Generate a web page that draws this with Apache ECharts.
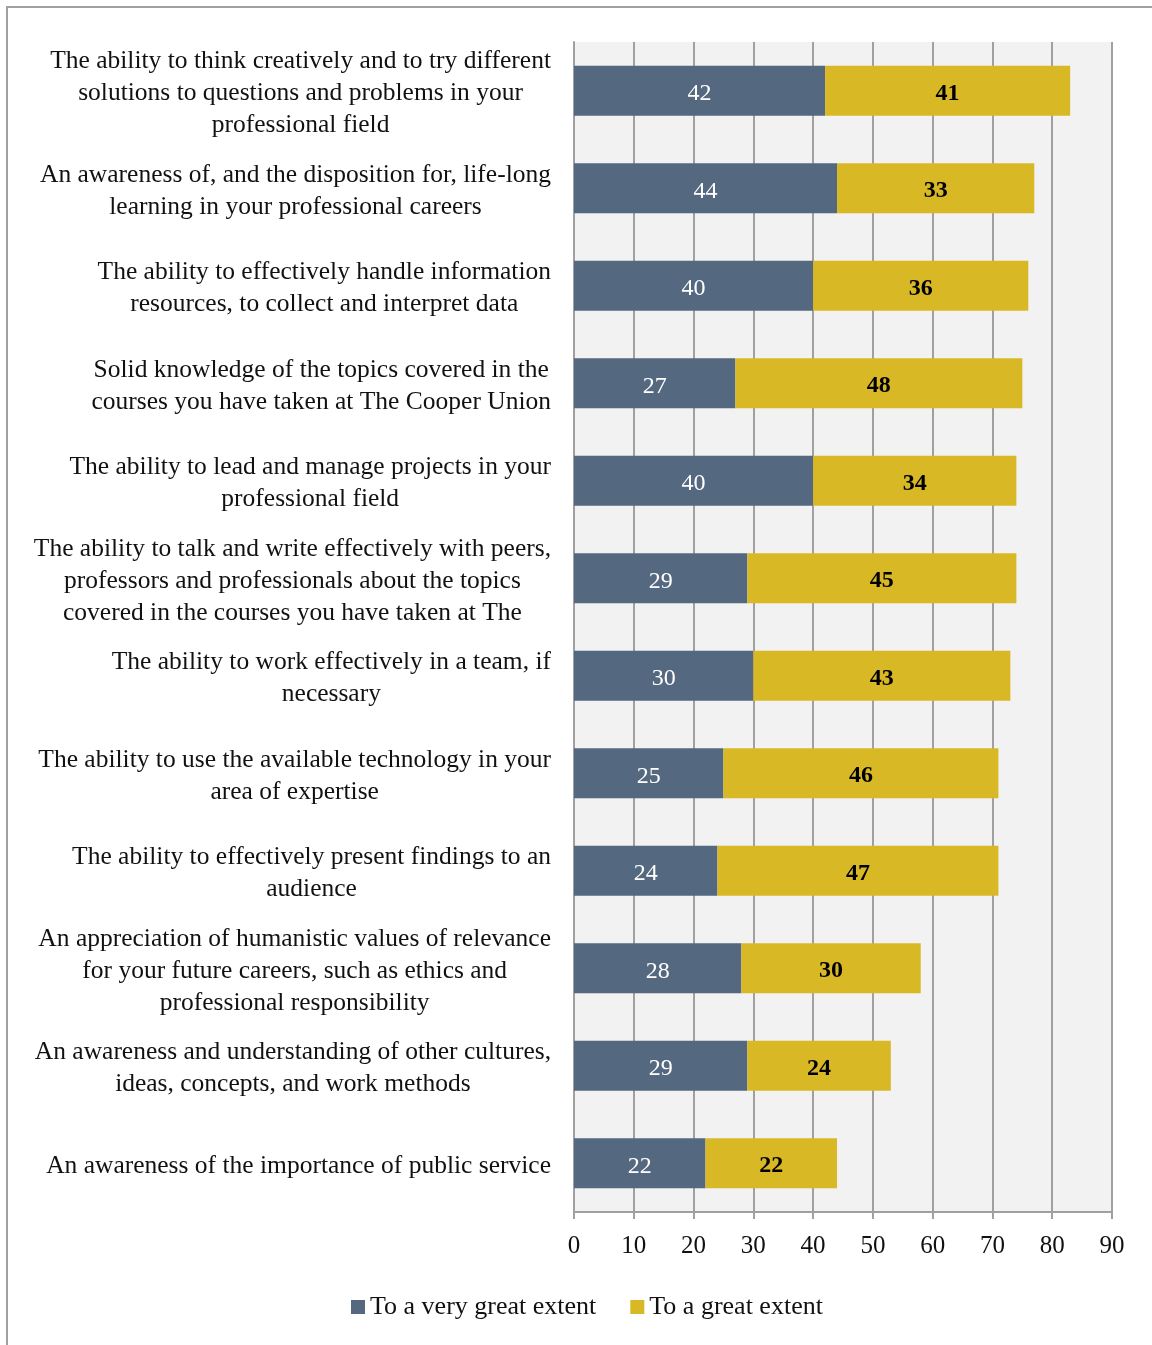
<!DOCTYPE html>
<html>
<head>
<meta charset="utf-8">
<script src="https://cdn.jsdelivr.net/npm/echarts@6/dist/echarts.min.js"></script>
<style>
  html, body { margin: 0; padding: 0; background: #fff; }
  .frame {
    position: absolute;
    left: 6px;
    top: 6px;
    width: 1160px;
    height: 1360px;
    border-left: 2px solid #a0a0a0;
    border-top: 2px solid #a0a0a0;
  }
  #chart { position: absolute; left: 0; top: 0; width: 1152px; height: 1345px; }
</style>
</head>
<body>
<div class="frame"></div>
<div id="chart"></div>
<script>
// categories, top to bottom
const categories = [
  'The ability to think creatively and to try different\nsolutions to questions and problems in your\nprofessional field',
  'An awareness of, and the disposition for, life-long\nlearning in your professional careers',
  'The ability to effectively handle information\nresources, to collect and interpret data',
  'Solid knowledge of the topics covered in the\ncourses you have taken at The Cooper Union',
  'The ability to lead and manage projects in your\nprofessional field',
  'The ability to talk and write effectively with peers,\nprofessors and professionals about the topics\ncovered in the courses you have taken at The',
  'The ability to work effectively in a team, if\nnecessary',
  'The ability to use the available technology in your\narea of expertise',
  'The ability to effectively present findings to an\naudience',
  'An appreciation of humanistic values of relevance\nfor your future careers, such as ethics and\nprofessional responsibility',
  'An awareness and understanding of other cultures,\nideas, concepts, and work methods',
  'An awareness of the importance of public service'
];
const seriesNames = ['To a very great extent', 'To a great extent'];
const veryGreat = [42, 44, 40, 27, 40, 29, 30, 25, 24, 28, 29, 22];
const great = [41, 33, 36, 48, 34, 45, 43, 46, 47, 30, 24, 22];

const serif = '"Liberation Serif", "DejaVu Serif", serif';
const chart = echarts.init(document.getElementById('chart'));

chart.setOption({
  animation: false,
  textStyle: { fontFamily: serif },
  legend: {
    data: seriesNames,
    left: 351,
    top: 1294,
    padding: 0,
    itemWidth: 14,
    itemHeight: 14,
    itemGap: 34,
    icon: 'rect',
    textStyle: { fontSize: 26, color: '#111', fontFamily: serif }
  },
  grid: {
    left: 574,
    right: 40,
    top: 42,
    bottom: 133,
    show: true,
    backgroundColor: '#f2f2f2',
    borderWidth: 0
  },
  xAxis: {
    type: 'value',
    min: 0,
    max: 90,
    interval: 10,
    axisLine: { show: true, lineStyle: { color: '#a0a0a0', width: 2 } },
    axisTick: { show: true, length: 7, lineStyle: { color: '#a0a0a0', width: 2 } },
    axisLabel: { fontSize: 25, color: '#111', margin: 22, fontFamily: serif },
    splitLine: { show: true, lineStyle: { color: '#a0a0a0', width: 2 } }
  },
  yAxis: {
    type: 'category',
    inverse: true,
    data: categories,
    axisLine: { show: true, lineStyle: { color: '#a0a0a0', width: 2 } },
    axisTick: { show: false },
    axisLabel: {
      margin: 23,
      interval: 0,
      lineHeight: 32,
      padding: [6, 0, 0, 0],
      formatter: function (v) {
        return v.split('\n').map(function (l) { return '{c|' + l + '}'; }).join('\n');
      },
      rich: {
        c: { align: 'center', fontSize: 25.5, lineHeight: 32, color: '#111', fontFamily: serif }
      }
    }
  },
  series: [
    {
      name: seriesNames[0],
      type: 'bar',
      stack: 'total',
      barWidth: 50,
      data: veryGreat,
      itemStyle: { color: '#54687f' },
      label: {
        show: true,
        position: 'inside',
        offset: [0, 3],
        color: '#fff',
        fontSize: 24,
        fontFamily: serif
      }
    },
    {
      name: seriesNames[1],
      type: 'bar',
      stack: 'total',
      barWidth: 50,
      data: great,
      itemStyle: { color: '#d9b826' },
      label: {
        show: true,
        position: 'inside',
        offset: [0, 3],
        color: '#000',
        fontWeight: 'bold',
        fontSize: 24,
        fontFamily: serif
      }
    }
  ]
});
</script>
</body>
</html>
